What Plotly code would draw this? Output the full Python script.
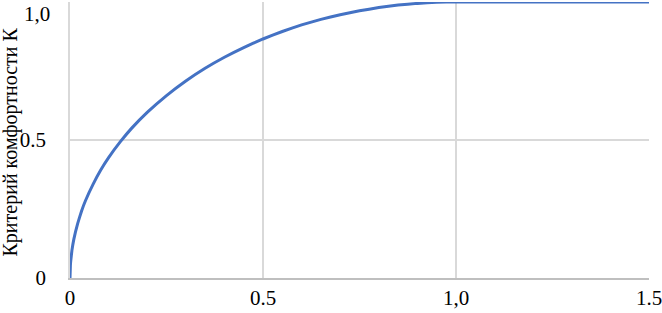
import plotly.graph_objects as go

# Data
x_vals = [0, 0.001, 0.002, 0.005, 0.01, 0.02, 0.03, 0.04, 0.06, 0.08, 0.10, 0.13, 0.16,
          0.20, 0.25, 0.30, 0.35, 0.40, 0.45, 0.50, 0.55, 0.60, 0.65, 0.70, 0.75,
          0.80, 0.85, 0.90, 0.95, 1.00, 1.10, 1.20, 1.30, 1.40, 1.50]
k_vals = [0, 0.045, 0.063, 0.100, 0.141, 0.198, 0.243, 0.280, 0.340, 0.392, 0.436,
          0.493, 0.543, 0.600, 0.661, 0.714, 0.760, 0.800, 0.835, 0.866, 0.893,
          0.917, 0.937, 0.954, 0.968, 0.980, 0.989, 0.995, 0.999, 1.0, 1.0, 1.0,
          1.0, 1.0, 1.0]

x_tick_vals = [0, 0.5, 1.0, 1.5]
x_tick_text = ["0", "0.5", "1,0", "1.5"]
y_tick_vals = [0, 0.5]
y_tick_text = ["0", "0.5"]
y_top_val = 1.0
y_top_text = "1,0"
y_title = "Критерий комфортности К"

FAM = "Liberation Serif"
grid_col = "#d9d9d9"
text_font = dict(family=FAM, size=21, color="black")

fig = go.Figure()
fig.add_trace(go.Scatter(
    x=x_vals, y=k_vals, mode="lines",
    line=dict(color="#4472C4", width=3, shape="spline", smoothing=0.3),
    cliponaxis=False, showlegend=False,
))

fig.update_layout(
    width=662, height=313,
    margin=dict(l=70, r=13, t=2, b=35),
    paper_bgcolor="white", plot_bgcolor="white",
    font=text_font,
)
fig.update_xaxes(
    range=[0, 1.5], tickvals=x_tick_vals, ticktext=x_tick_text,
    tickfont=text_font,
    showgrid=True, gridcolor=grid_col, gridwidth=1.5,
    showline=True, linecolor="#bfbfbf", linewidth=1.5,
    zeroline=False, ticks="", ticklabelstandoff=0,
    automargin=False, ticklabeloverflow="allow",
)
fig.update_yaxes(
    range=[0, 1.0], tickvals=y_tick_vals + [y_top_val], ticktext=y_tick_text + [""],
    tickfont=text_font,
    showgrid=True, gridcolor=grid_col, gridwidth=1.5,
    showline=True, linecolor=grid_col, linewidth=1.5,
    zeroline=False, ticks="", ticklabelstandoff=18,
    automargin=False, ticklabeloverflow="allow",
)
fig.add_annotation(
    text=y_top_text, xref="paper", yref="y", x=0, y=y_top_val,
    xanchor="right", yanchor="top", xshift=-18, yshift=2, showarrow=False,
    font=text_font,
)
fig.add_annotation(
    text=y_title, xref="paper", yref="paper",
    x=-(70 - 10) / 579, y=0.491, xanchor="center", yanchor="middle",
    textangle=-90, showarrow=False, font=dict(family=FAM, size=20, color="black"),
)

fig.write_html("out.html", config={"displayModeBar": False},
               post_script="document.body.style.margin='0';")
